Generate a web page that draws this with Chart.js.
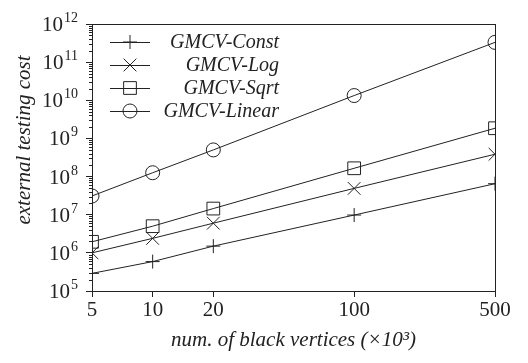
<!DOCTYPE html>
<html>
<head>
<meta charset="utf-8">
<script src="https://cdn.jsdelivr.net/npm/chart.js@4/dist/chart.umd.min.js"></script>
<style>
  body { margin: 0; background: #fff; }
  #wrap { width: 528px; height: 363px; }
</style>
</head>
<body>
<div id="wrap"><canvas id="chart" width="528" height="363"></canvas></div>
<script>
// num. of black vertices (x10^3)
const vertices = [5, 10, 20, 100, 500];
const xTicks = [5, 10, 20, 100, 500];
const yDecades = [5, 6, 7, 8, 9, 10, 11, 12];

const costConst = [2.9e5, 5.9e5, 1.5e6, 9.8e6, 6.5e7];
const costLog = [1.0e6, 2.4e6, 6.0e6, 4.9e7, 3.85e8];
const costSqrt = [1.95e6, 5.0e6, 1.45e7, 1.65e8, 1.85e9];
const costLinear = [3.1e7, 1.26e8, 5.0e8, 1.33e10, 3.3e11];

const seriesNames = ['GMCV-Const', 'GMCV-Log', 'GMCV-Sqrt', 'GMCV-Linear'];
const seriesMarkers = ['cross', 'crossRot', 'rect', 'circle'];
const seriesRadius = [7, 9, 9, 7];

const ink = '#222';
const serif = '"Liberation Serif", "DejaVu Serif", serif';

function toPoints(values) {
  return vertices.map((v, i) => ({ x: v, y: values[i] }));
}

const datasets = [costConst, costLog, costSqrt, costLinear].map((vals, i) => ({
  label: seriesNames[i],
  data: toPoints(vals),
  borderColor: ink,
  borderWidth: 1,
  backgroundColor: 'transparent',
  pointStyle: seriesMarkers[i],
  pointRadius: seriesRadius[i],
  pointBorderColor: ink,
  pointBorderWidth: 1,
  pointBackgroundColor: 'transparent',
  tension: 0
}));

// frame, minor ticks, y labels, y title, legend
const decorations = {
  id: 'decorations',
  afterDraw(chart) {
    const ctx = chart.ctx;
    const area = chart.chartArea;
    const y = chart.scales.y;
    ctx.save();
    ctx.strokeStyle = ink;
    ctx.lineWidth = 1;
    ctx.strokeRect(area.left + 0.5, area.top + 0.5, area.right - area.left, area.bottom - area.top);

    // minor ticks
    ctx.beginPath();
    for (let d = 5; d < 12; d++) {
      for (let m = 2; m <= 9; m++) {
        const py = Math.round(y.getPixelForValue(m * Math.pow(10, d))) + 0.5;
        ctx.moveTo(area.left - 3, py);
        ctx.lineTo(area.left, py);
      }
    }
    ctx.stroke();

    // y tick labels 10^n
    ctx.fillStyle = ink;
    ctx.textBaseline = 'alphabetic';
    yDecades.forEach(d => {
      const py = y.getPixelForValue(Math.pow(10, d));
      const exp = String(d);
      ctx.font = '14px ' + serif;
      const ew = ctx.measureText(exp).width;
      ctx.textAlign = 'left';
      ctx.fillText(exp, 78 - ew, py - 2);
      ctx.font = '21px ' + serif;
      ctx.textAlign = 'right';
      ctx.fillText('10', 78 - ew - 1, py + 7);
    });

    // y title
    ctx.save();
    ctx.translate(24, 140);
    ctx.rotate(-Math.PI / 2);
    ctx.font = 'italic 21px ' + serif;
    ctx.textAlign = 'center';
    ctx.textBaseline = 'middle';
    ctx.fillText('external testing cost', 0, 0);
    ctx.restore();

    // legend
    chart.data.datasets.forEach((ds, i) => {
      const ly = 42 + 23 * i;
      ctx.beginPath();
      ctx.moveTo(110, ly + 0.5);
      ctx.lineTo(150, ly + 0.5);
      ctx.stroke();
      ctx.save();
      ctx.fillStyle = 'rgba(0,0,0,0)';
      Chart.helpers.drawPoint(ctx, {
        pointStyle: ds.pointStyle,
        radius: ds.pointRadius,
        rotation: 0,
        borderWidth: 1
      }, 130, ly);
      ctx.restore();
      ctx.font = 'italic 20px ' + serif;
      ctx.textAlign = 'right';
      ctx.textBaseline = 'middle';
      ctx.fillText(ds.label, 279, ly + 1);
    });
    ctx.restore();
  }
};

new Chart(document.getElementById('chart'), {
  type: 'line',
  data: { datasets: datasets },
  options: {
    responsive: false,
    animation: false,
    layout: { padding: { top: 24, right: 33, left: 0, bottom: 0 } },
    plugins: { legend: { display: false }, tooltip: { enabled: false } },
    scales: {
      x: {
        type: 'logarithmic',
        min: 5,
        max: 500,
        afterBuildTicks: s => { s.ticks = xTicks.map(v => ({ value: v })); },
        afterFit: s => { s.height = 72; },
        grid: { drawOnChartArea: false, tickLength: 6, color: ink },
        border: { color: ink },
        ticks: {
          color: ink,
          font: { family: serif, size: 21 },
          padding: 1,
          maxRotation: 0,
          callback: v => String(v)
        },
        title: {
          display: true,
          text: 'num. of black vertices (×10³)',
          color: ink,
          font: { family: serif, size: 21, style: 'italic' },
          padding: { top: 0, bottom: 10 }
        }
      },
      y: {
        type: 'logarithmic',
        min: 1e5,
        max: 1e12,
        afterBuildTicks: s => { s.ticks = yDecades.map(d => ({ value: Math.pow(10, d) })); },
        afterFit: s => { s.width = 92; },
        grid: { drawOnChartArea: false, tickLength: 6, color: ink },
        border: { color: ink },
        ticks: { display: false }
      }
    }
  },
  plugins: [decorations]
});
</script>
</body>
</html>
